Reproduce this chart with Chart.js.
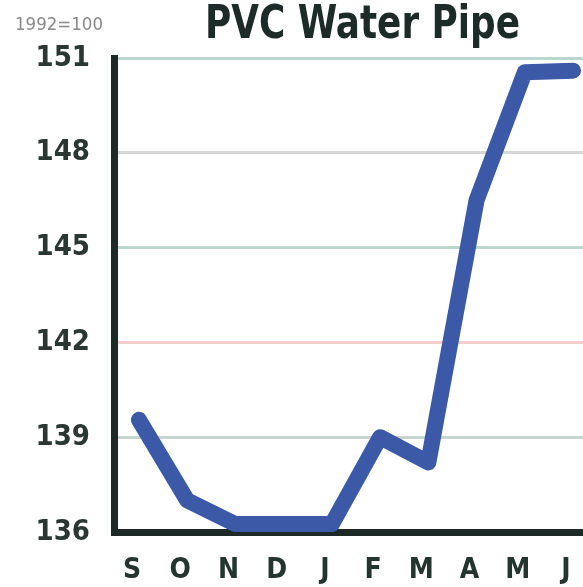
<!DOCTYPE html>
<html>
<head>
<meta charset="utf-8">
<script src="https://cdn.jsdelivr.net/npm/chart.js@4/dist/chart.umd.min.js"></script>
<style>
  html, body { margin: 0; padding: 0; background: #fff; }
  #wrap { width: 583px; height: 587px; }
</style>
</head>
<body>
<div id="wrap"><canvas id="lineChart"></canvas></div>
<script>
const months = ['S', 'O', 'N', 'D', 'J', 'F', 'M', 'A', 'M', 'J'];
const index = [139.55, 137.0, 136.25, 136.25, 136.25, 139.0, 138.2, 146.5, 150.55, 150.6];
const yTicks = [136, 139, 142, 145, 148, 151];

const narrow = "'Liberation Sans Narrow', 'DejaVu Sans Condensed', 'Arial Narrow', sans-serif";

const gridColors = { 151: '#b9d6cf', 148: '#d6d6d6', 145: '#b9d6cf', 142: '#f6cdcd', 139: '#c9d3d0' };

// title + base note, squeezed horizontally to look like the condensed print face
const headerPlugin = {
    id: 'header',
    afterDraw(chart) {
        const c = chart.ctx;
        c.save();
        c.fillStyle = '#1c2b27';
        c.font = 'bold 46px ' + narrow;
        c.textBaseline = 'alphabetic';
        let w = c.measureText('PVC Water Pipe').width;
        let k = 315 / w;
        c.translate(205, 38);
        c.scale(k, 1);
        c.fillText('PVC Water Pipe', 0, 0);
        c.restore();

        c.save();
        c.fillStyle = '#8a8a8a';
        c.font = '18px ' + narrow;
        w = c.measureText('1992=100').width;
        c.translate(15, 30);
        c.scale(88 / w, 1);
        c.fillText('1992=100', 0, 0);
        c.restore();
    }
};

const ctx = document.getElementById('lineChart');

new Chart(ctx, {
    type: 'line',
    data: {
        datasets: [{
            label: 'PVC Water Pipe',
            data: index.map((v, i) => ({ x: i, y: v })),
            borderColor: '#3b59a7',
            borderWidth: 16,
            borderCapStyle: 'round',
            borderJoinStyle: 'round',
            pointRadius: 0,
            tension: 0
        }]
    },
    options: {
        responsive: true,
        maintainAspectRatio: false,
        animation: false,
        layout: { padding: { top: 58, right: 0, bottom: 0, left: 0 } },
        plugins: {
            legend: { display: false },
            tooltip: { enabled: false }
        },
        scales: {
            x: {
                type: 'linear',
                min: -0.518,
                max: 9.207,
                afterBuildTicks: s => { s.ticks = months.map((m, i) => ({ value: i })); },
                afterFit: s => { s.height = 55; s.paddingLeft = 0; s.paddingRight = 0; },
                ticks: {
                    callback: v => months[v],
                    color: '#24352f',
                    font: { family: narrow, size: 28, weight: 'bold' },
                    labelOffset: -7,
                    padding: 14,
                    maxRotation: 0,
                    autoSkip: false
                },
                grid: { display: false },
                border: { color: '#1c2926', width: 7 }
            },
            y: {
                min: 136,
                max: 151,
                afterBuildTicks: s => { s.ticks = yTicks.map(v => ({ value: v })); },
                afterFit: s => { s.width = 114; s.paddingTop = 0; s.paddingBottom = 0; },
                ticks: {
                    color: '#2b3733',
                    font: { family: narrow, size: 29, weight: 'bold' },
                    padding: 24
                },
                grid: {
                    drawTicks: false,
                    lineWidth: 3,
                    color: c => gridColors[c.tick.value] || 'rgba(0,0,0,0)'
                },
                border: { color: '#1c2926', width: 7 }
            }
        }
    },
    plugins: [headerPlugin]
});
</script>
</body>
</html>
